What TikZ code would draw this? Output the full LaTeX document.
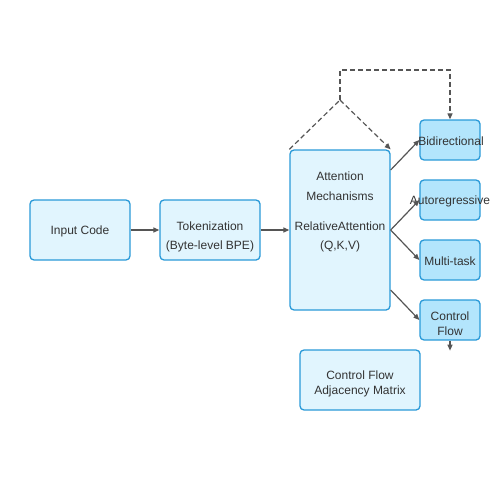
\documentclass[tikz,border=0pt]{standalone}
\usepackage{fontspec}
\setmainfont{Liberation Sans}
\usetikzlibrary{arrows.meta,calc}
\definecolor{lightfill}{HTML}{E1F5FE}
\definecolor{darkfill}{HTML}{B3E5FC}
\definecolor{boxline}{HTML}{2A9AD8}
\definecolor{txt}{HTML}{333333}
\definecolor{arr}{HTML}{555555}
\begin{document}
\begin{tikzpicture}[x=1pt,y=-1pt,
  box/.style={draw=boxline,line width=1.3pt,rounded corners=4pt,inner sep=0pt},
  lbox/.style={box,fill=lightfill},
  dbox/.style={box,fill=darkfill},
  txtnode/.style={text=txt,font=\fontsize{12}{15}\selectfont,align=center,inner sep=0pt},
  conn/.style={draw=arr,line width=1.2pt,-{Triangle[length=6pt,width=5pt]}},
  dconn/.style={draw=arr,line width=1.2pt,dash pattern=on 5pt off 3pt}
]
\useasboundingbox (0,0) rectangle (500,500);
\node[lbox,minimum width=100pt,minimum height=60pt] (inp) at (80,230) {};
\node[lbox,minimum width=100pt,minimum height=60pt] (tok) at (210,230) {};
\node[lbox,minimum width=100pt,minimum height=160pt] (att) at (340,230) {};
\node[dbox,minimum width=60pt,minimum height=40pt] (bid) at (450,140) {};
\node[dbox,minimum width=60pt,minimum height=40pt] (aut) at (450,200) {};
\node[dbox,minimum width=60pt,minimum height=40pt] (mul) at (450,260) {};
\node[dbox,minimum width=60pt,minimum height=40pt] (cfl) at (450,320) {};
\node[lbox,minimum width=120pt,minimum height=60pt] (adj) at (360,380) {};

\node[txtnode] (tinp) at (80,231) {Input Code};
\node[txtnode] (ttok1) at (210,226) {Tokenization};
\node[txtnode] (ttok2) at (210,246) {(Byte-level BPE)};
\node[txtnode] (tatt1) at (340,176) {Attention};
\node[txtnode] (tatt2) at (340,196) {Mechanisms};
\node[txtnode] (tatt3) at (340,226) {RelativeAttention};
\node[txtnode] (tatt4) at (340,246) {(Q,K,V)};
\node[txtnode] (tbid) at (451,141) {Bidirectional};
\node[txtnode] (taut) at (450,201) {Autoregressive};
\node[txtnode] (tmul) at (450,261) {Multi-task};
\node[txtnode] (tcfl) at (450,323.5) {Control\\Flow};
\node[txtnode] (tadj) at (360,383.5) {Control Flow\\Adjacency Matrix};

\draw[conn] (inp.east) -- (tok.west);
\draw[conn] (tok.east) -- (att.west);
\draw[conn] ([yshift=60pt]att.east) -- (bid.west);
\draw[conn] (att.east) -- (aut.west);
\draw[conn] (att.east) -- (mul.west);
\draw[conn] ([yshift=-60pt]att.east) -- (cfl.west);
\coordinate (cend) at ($(cfl.south)+(0,10)$);
\draw[conn] (cfl.south) -- (cend);

\coordinate (apex) at (340,100);
\coordinate (top) at (340,70);
\draw[dconn] (att.north west) -- (apex);
\draw[dconn,-{Triangle[length=6pt,width=5pt]}] (apex) -- (att.north east);
\draw[dconn,-{Triangle[length=6pt,width=5pt]}] (apex) -- (top) -| (bid.north);
\end{tikzpicture}
\end{document}
